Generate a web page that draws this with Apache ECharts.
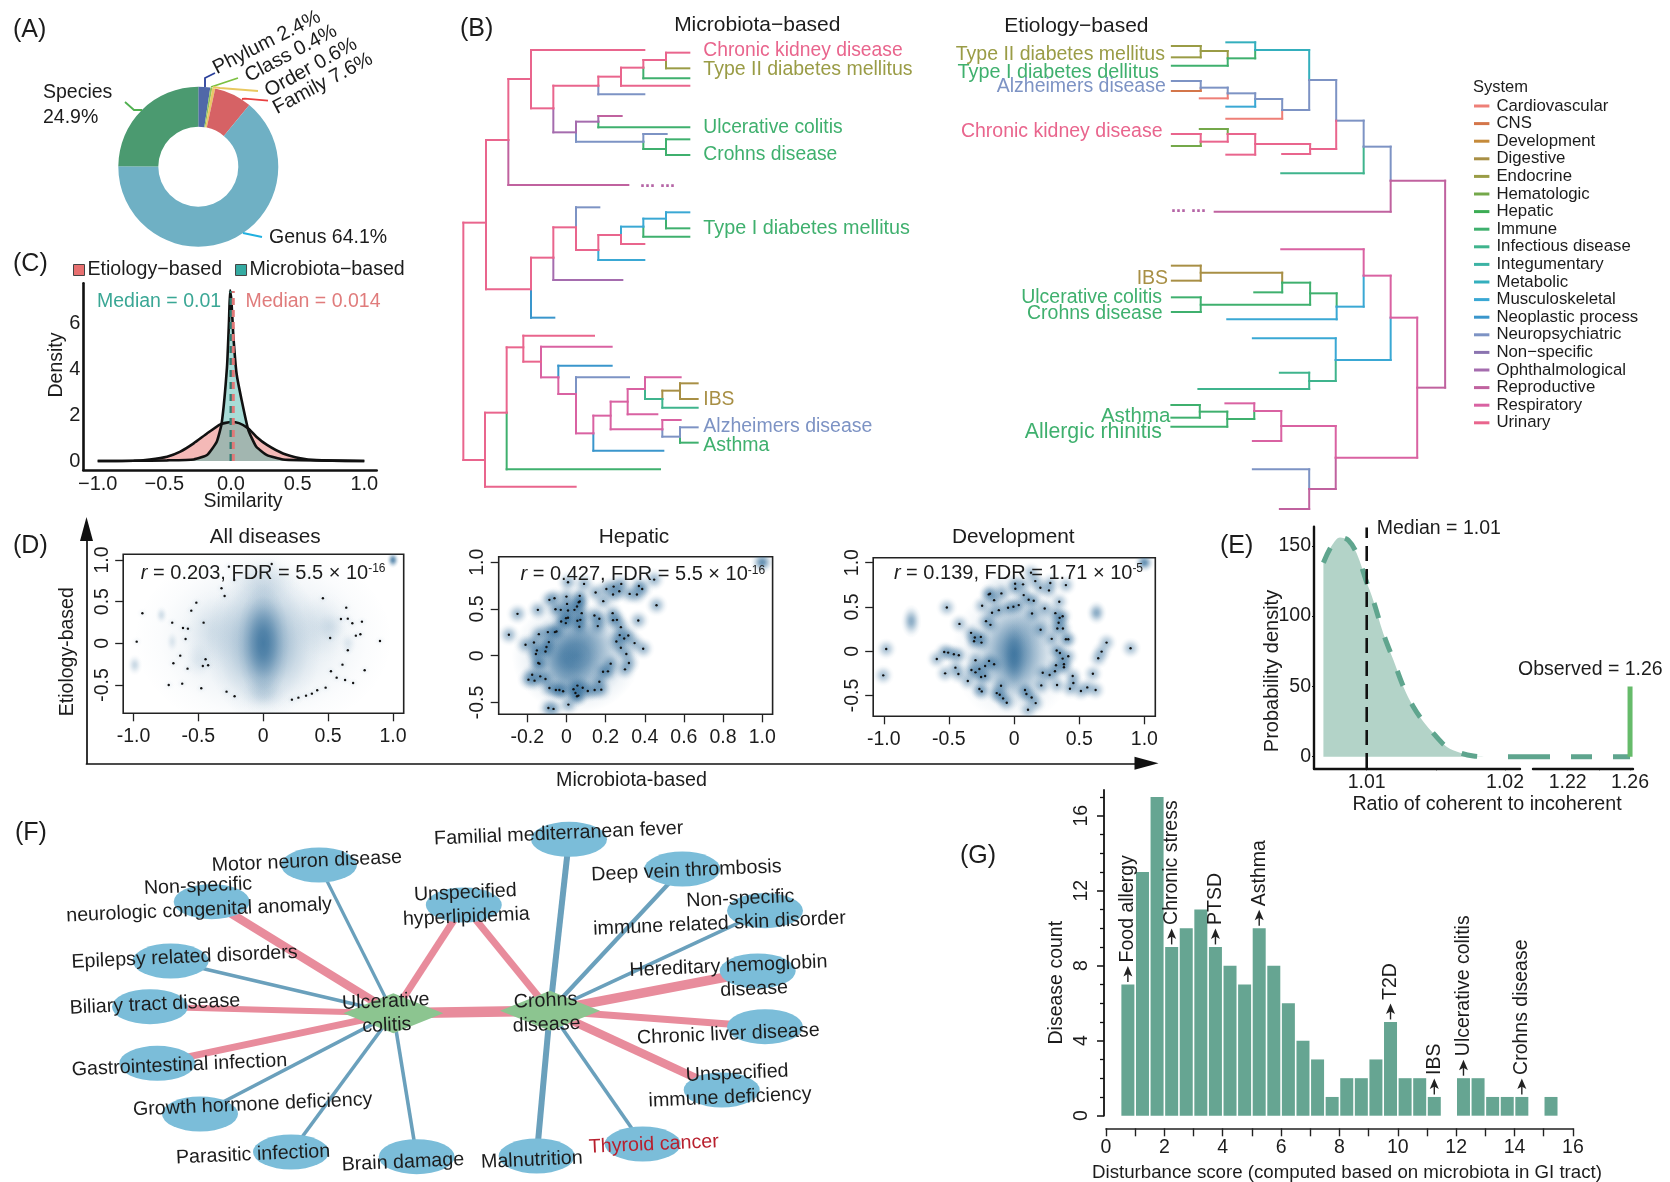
<!DOCTYPE html>
<html><head><meta charset="utf-8">
<style>html,body{margin:0;padding:0;background:#fff}#c{width:1670px;height:1182px}</style>
<script src="https://cdn.jsdelivr.net/npm/echarts@6/dist/echarts.min.js"></script>
</head><body><div id="c"></div>
<script>
/* ---------- A: taxonomic level shares ---------- */
const pieNames=['Phylum','Class','Order','Family','Genus','Species'];
const pieValues=[2.4,0.4,0.6,7.6,64.1,24.9];
/* ---------- systems (legend of B) ---------- */
const systems=['Cardiovascular','CNS','Development','Digestive','Endocrine','Hematologic','Hepatic','Immune','Infectious disease','Integumentary','Metabolic','Musculoskeletal','Neoplastic process','Neuropsychiatric','Non\u2212specific','Ophthalmological','Reproductive','Respiratory','Urinary'];
const [CV,CN,DE,DI,EN,HM,HP,IM,IF,IT,ME,MU,NP,NE,NS,OP,RP,RS,UR]=systems.map((s,i)=>i);
const systemColors=['#ee7f77','#d4764a','#c58a3a','#a88f45','#9a9c46','#74a84a','#3cac54','#3fb06e','#3fb48d','#3cb3a4','#34afbd','#3aa8d4','#3a96cc','#7d93c4','#8b74b0','#a56cae','#c0629f','#d962a2','#e9658d'];
/* ---------- B: dendrogram branches (system, x1,y1,x2,y2 in tree units) ---------- */
const treeMicrobiota=[
[UR,40,668,40,1380],[UR,40,668,108,668],[UR,40,1380,105,1380],
[UR,108,420,108,868],[UR,108,420,175,420],[UR,108,868,243,868],
[UR,175,237,175,420],[RP,175,420,175,555],[UR,175,237,243,237],[RP,175,555,535,555],
[UR,243,150,243,325],[UR,243,150,583,150],[UR,243,325,310,325],
[UR,310,257,310,325],[OP,310,325,310,397],[UR,310,257,445,257],[OP,310,397,378,397],
[UR,445,230,445,257],[NE,445,257,445,283],[UR,445,230,513,230],[NE,445,283,583,283],
[UR,513,203,513,257],[UR,513,203,580,203],[UR,513,257,718,257],
[UR,580,180,580,203],[IM,580,203,580,235],[UR,580,180,648,180],[IM,580,235,718,235],
[UR,648,158,648,180],[EN,648,180,648,205],[UR,648,158,718,158],[EN,648,205,718,205],
[OP,378,365,378,397],[NE,378,397,378,425],[OP,378,365,445,365],[NE,378,425,580,425],
[OP,445,348,445,365],[IM,445,365,445,382],[RP,445,348,515,348],[IM,445,382,718,382],
[NE,580,402,580,425],[IM,580,425,580,447],[NE,580,402,650,402],[IM,580,447,648,447],
[IM,648,418,648,465],[IM,648,418,718,418],[IM,648,465,718,465],
[UR,243,773,243,868],[NP,243,868,243,953],[UR,243,773,310,773],[NP,243,953,313,953],
[UR,310,682,310,773],[OP,310,773,310,840],[UR,310,682,378,682],[OP,310,840,517,840],
[NE,378,622,378,682],[UR,378,682,378,750],[NE,378,622,448,622],[UR,378,750,445,750],
[UR,445,705,445,750],[MU,445,750,445,780],[UR,445,705,513,705],[MU,445,780,583,780],
[MU,513,680,513,705],[UR,513,705,513,732],[MU,513,680,580,680],[UR,513,732,583,732],
[MU,580,656,580,680],[IM,580,680,580,710],[MU,580,656,648,656],[IM,580,710,718,710],
[MU,648,637,648,656],[IM,648,656,648,685],[MU,648,637,718,637],[IM,648,685,718,685],
[UR,105,1238,105,1460],[UR,105,1238,170,1238],[UR,105,1460,377,1460],
[UR,170,1042,170,1238],[IM,170,1238,170,1408],[UR,170,1042,220,1042],[IM,170,1408,630,1408],
[UR,220,1007,220,1085],[UR,220,1007,432,1007],[UR,220,1085,273,1085],
[RS,273,1040,273,1132],[RS,273,1040,485,1040],[RS,273,1132,325,1132],
[NP,325,1097,325,1132],[RS,325,1132,325,1182],[NP,325,1097,485,1097],[RS,325,1182,378,1182],
[NE,378,1132,378,1182],[RS,378,1182,378,1300],[NE,378,1132,537,1132],[RS,378,1300,430,1300],
[RS,430,1247,430,1300],[NP,430,1300,430,1352],[RS,430,1247,482,1247],[NP,430,1352,640,1352],
[RS,482,1205,482,1288],[RS,482,1205,533,1205],[RS,482,1288,637,1288],
[RS,533,1167,533,1243],[RS,533,1167,585,1167],[RS,533,1243,622,1243],
[RS,585,1132,585,1167],[IF,585,1167,585,1197],[RS,585,1132,692,1132],[IF,585,1197,637,1197],
[DI,637,1172,637,1197],[IF,637,1197,637,1223],[DI,637,1172,690,1172],[IF,637,1223,743,1223],
[DI,690,1150,690,1197],[DI,690,1150,743,1150],[DI,690,1197,743,1197],
[RS,637,1260,637,1288],[NE,637,1288,637,1310],[RS,637,1260,692,1260],[NE,637,1310,690,1310],
[NE,690,1282,690,1310],[IM,690,1310,690,1328],[NE,690,1282,743,1282],[IM,690,1328,743,1328]
];
const treeEtiology=[
[EN,498,138,560,138],[EN,498,172,560,172],[EN,560,138,560,172],[EN,560,153,618,153],
[EN,618,153,618,175],[IM,618,175,618,197],[IM,498,197,618,197],[IM,618,175,677,175],
[ME,677,127,677,150],[IM,677,150,677,175],[ME,615,127,677,127],[ME,677,150,793,150],
[ME,793,150,793,240],[NE,793,240,793,330],[NE,793,240,851,240],[NE,735,330,793,330],
[NE,498,243,560,243],[CN,498,273,560,273],[NE,560,243,560,265],[CN,560,265,560,273],[NE,560,263,618,263],
[CV,558,295,618,295],[NE,618,263,618,280],[CV,618,280,618,295],[NE,618,280,677,280],
[MU,615,320,677,320],[NE,677,280,677,297],[MU,677,297,677,320],[NE,677,297,735,297],
[NE,735,297,735,330],[CV,735,330,735,356],[CV,615,356,735,356],
[NE,851,240,851,362],[UR,851,362,851,447],[NE,851,362,910,362],[UR,795,447,851,447],
[UR,795,432,795,462],[UR,677,432,795,432],[UR,735,462,795,462],
[UR,677,402,677,464],[UR,618,402,677,402],[UR,615,464,677,464],
[HM,618,387,618,402],[UR,618,402,618,425],[HM,558,387,618,387],[UR,560,425,618,425],
[UR,560,402,560,425],[HM,560,425,560,438],[UR,498,402,560,402],[HM,498,438,560,438],
[NE,910,362,910,440],[IF,910,440,910,520],[NE,910,440,968,440],[IF,733,520,910,520],
[NE,968,440,968,542],[RP,968,542,968,635],[RP,968,542,1085,542],[RP,590,635,968,635],
[RP,1085,542,1085,1163],[RP,1025,1163,1085,1163],
[RS,1025,953,1025,1373],[RS,968,953,1025,953],[RS,850,1373,1025,1373],
[RS,968,827,968,953],[MU,968,953,968,1080],[RS,910,827,968,827],[MU,850,1080,968,1080],
[RS,910,748,910,827],[MU,910,827,910,920],[RS,733,748,910,748],[MU,852,920,910,920],
[IM,852,880,852,920],[MU,852,920,852,958],[IM,795,880,852,880],[MU,617,958,852,958],
[IM,795,848,795,914],[IM,735,848,795,848],[IM,560,914,795,914],
[DI,735,818,735,848],[IM,735,848,735,877],[DI,560,818,735,818],[IM,675,877,735,877],
[DI,560,797,560,842],[DI,498,797,560,797],[DI,498,842,560,842],
[IM,560,892,560,936],[IM,498,892,560,892],[IM,498,936,560,936],
[MU,850,1015,850,1080],[IF,850,1080,850,1143],[MU,672,1015,850,1015],[IF,793,1143,850,1143],
[IF,793,1118,793,1167],[IF,730,1118,793,1118],[IF,555,1167,793,1167],
[RS,850,1278,850,1373],[RP,850,1373,850,1467],[RS,733,1278,850,1278],[RP,793,1467,850,1467],
[RS,733,1233,733,1323],[RS,675,1233,733,1233],[RS,672,1323,733,1323],
[RS,675,1210,675,1233],[IM,675,1233,675,1257],[RS,613,1210,675,1210],[IM,617,1257,675,1257],
[IM,617,1235,617,1280],[IM,558,1235,617,1235],[IM,497,1280,617,1280],
[IM,558,1215,558,1253],[IM,497,1215,558,1215],[IM,497,1253,558,1253],
[NE,793,1408,793,1467],[RP,793,1467,793,1527],[NE,672,1408,793,1408],[RP,730,1527,793,1527]
];
/* ---------- C: similarity densities ---------- */
const densityEtiology=[[-1,0],[-.73,.01],[-.61,.07],[-.48,.19],[-.38,.41],[-.28,.77],[-.18,1.2],[-.08,1.6],[0,1.7],[.06,1.65],[.13,1.42],[.19,1.06],[.27,.7],[.39,.33],[.52,.12],[.64,.04],[1,0]];
const densityMicrobiota=[[-1,0],[-.73,.01],[-.48,.03],[-.28,.07],[-.18,.26],[-.107,.84],[-.07,1.64],[-.03,4.1],[-.015,6.1],[-.007,7.43],[.004,6.9],[.017,5.5],[.042,3.8],[.08,2.65],[.13,1.35],[.19,.62],[.27,.26],[.39,.07],[.52,.04],[1,0]];
const medianMicrobiotaX=0.0, medianEtiologyX=0.017, medianTop=7.4;
/* ---------- D: scatter points ---------- */
const dotsAll=[[-.516,.488],[-.555,.392],[-.322,.66],[-.298,.568],[-.932,.36],[-.702,.248],[-.619,.184],[-.581,.176],[-.46,.248],[-.599,.052],[-.976,.02],[-.64,-.148],[-.445,-.192],[-.693,-.24],[-.466,-.272],[-.425,-.264],[-.584,-.304],[-.729,-.5],[-.625,-.484],[-.478,-.54],[-.283,-.58],[-.221,-.636],[.221,-.676],[.271,-.652],[.33,-.628],[.375,-.604],[.416,-.564],[.481,-.532],[.522,-.336],[.566,-.412],[.631,-.44],[.693,-.476],[.782,-.324],[.611,-.256],[.652,-.084],[.516,.064],[.714,.092],[.749,.108],[.9,.028],[.761,.26],[.687,.24],[.652,.296],[.599,.292],[.64,.428],[.46,.54],[-.224,.76],[-.265,.92],[.065,.952]];
const dotsHepatic=[[-.294,.224],[-.25,.448],[-.146,.491],[-.209,.117],[-.166,.142],[-.141,.231],[-.095,.253],[-.059,.253],[-.051,.26],[-.09,.146],[-.102,.093],[-.107,.046],[-.151,.057],[-.156,.018],[-.144,-.078],[-.138,-.085],[-.175,-.203],[-.194,-.256],[-.163,-.267],[-.134,-.221],[-.107,-.249],[-.087,-.345],[-.054,-.367],[-.036,-.367],[-.017,-.381],[.036,-.359],[.056,-.32],[.083,-.342],[.109,-.377],[.144,-.367],[.178,-.363],[.168,-.278],[.187,-.171],[.212,-.167],[.226,-.085],[.046,-.399],[.054,-.434],[.061,-.427],[.01,-.523],[-.092,-.559],[-.066,-.569],[-.087,.598],[-.061,.616],[0,.633],[.068,.641],[.068,.58],[.063,.573],[.003,.555],[-.056,.498],[-.029,.491],[.008,.484],[.041,.491],[.054,.527],[.078,.456],[.143,.431],[.168,.395],[.236,.456],[.238,.381],[.258,.384],[.278,.306],[.16,.317],[.066,.31],[.056,.374],[.071,.384],[-.002,.402],[.008,.406],[-.027,.367],[-.003,.349],[.149,.676],[.188,.584],[.204,.715],[.241,.74],[.28,.769],[.238,.655],[.27,.69],[.323,.662],[.36,.655],[.37,.747],[.387,.715],[.448,.815],[.46,.541],[.367,.377],[.272,.221],[.295,.185],[.316,.217],[.255,.153],[.348,.135],[.392,.075],[.278,.085],[.306,.018],[.319,-.078],[.299,-.146],[.09,.769],[.008,.786]];
const dotsDevelopment=[[-.981,.026],[-1.004,-.272],[-.516,.494],[-.419,.309],[-.593,-.087],[-.536,-.008],[-.506,-.015],[-.462,-.034],[-.424,-.045],[-.529,-.249],[-.45,-.185],[-.427,-.257],[-.355,-.336],[-.33,.208],[-.301,.155],[-.307,.113],[-.255,.162],[-.25,.098],[-.296,-.102],[-.192,-.109],[-.222,-.166],[-.153,-.147],[-.266,-.2],[-.327,-.211],[-.296,-.238],[-.253,-.291],[-.222,-.279],[-.266,-.426],[-.248,-.453],[-.133,-.472],[-.11,-.491],[-.084,-.532],[-.056,-.581],[-.1,-.389],[.084,-.438],[.095,-.483],[.135,-.521],[.166,-.585],[.107,-.66],[.209,-.385],[.22,-.242],[.273,-.268],[.314,-.226],[.33,-.381],[.383,-.147],[.383,-.181],[.322,-.158],[.373,-.083],[.416,-.057],[.352,-.019],[.327,.008],[.289,.14],[.398,.136],[.416,.136],[.204,.242],[.332,.257],[.375,.257],[.342,.321],[.35,.377],[.373,.396],[.317,.43],[.235,.483],[.138,.426],[.112,.581],[.151,.57],[.074,.634],[.036,.521],[-.005,.502],[-.046,.491],[-.117,.464],[-.169,.434],[-.245,.513],[-.194,.642],[-.184,.649],[-.153,.577],[-.097,.653],[-.215,.34],[-.181,.298],[.008,.762],[.069,.755],[.01,.706],[.13,.887],[.163,.792],[.202,.717],[.278,.77],[.268,.687],[.398,.747],[.347,.558],[.45,-.279],[.455,-.358],[.429,-.423],[.513,-.449],[.562,-.408],[.626,-.438],[.605,-.253],[.646,-.079],[.672,-.004],[.71,.098],[.894,.034]];
/* density patches estimated by eye: x, y, x-spread, y-spread, strength */
const patchesAll=[[0,.05,1.0,1.15,.2],[0,0,.45,.95,.42],[.45,.2,.25,.45,.1],[-.4,.15,.25,.5,.1],[0,.75,.3,.35,.15],[0,-.6,.2,.25,.15],[0,0,.2,.72,.72],[1,1,.05,.1,.75],[-.785,.34,.05,.11,.2],[-.991,-.26,.06,.13,.25],[-.702,.02,.05,.13,.14],[.655,0,.07,.14,.12],[.52,.2,.12,.2,.1],[-.5,-.2,.12,.25,.1]];
const patchesHepatic=[[.05,.0,.33,.62,.72],[.0,-.05,.17,.4,.5],[.08,.2,.18,.28,.25],[1,1,.06,.12,.72],[.02,-.3,.18,.2,.2]];
const patchesDevelopment=[[0,-.02,.48,.8,.5],[0,-.02,.25,.62,.55],[0,-.06,.1,.38,.55],[1,1,.08,.11,.72],[-.789,.34,.08,.19,.55],[.633,.434,.08,.14,.55],[.18,.35,.22,.32,.2],[-.1,.7,.16,.22,.16]];
const statsAll='{i|r} = 0.203, FDR = 5.5 \u00d7 10{s|-16}';
const statsHepatic='{i|r} = 0.427, FDR = 5.5 \u00d7 10{s|-16}';
const statsDevelopment='{i|r} = 0.139, FDR = 1.71 \u00d7 10{s|-5}';
/* ---------- E: permutation density ---------- */
const ratioDensity=[[1.00687,138],[1.00747,150],[1.00807,156],[1.00867,154],[1.00928,144.5],[1.01,124],[1.01048,111],[1.0112,87.7],[1.01193,68.7],[1.01265,49.8],[1.01337,35.5],[1.0141,24.9],[1.01482,16.6],[1.01578,7],[1.01675,2.8],[1.01771,.5],[1.01868,0]];
const ratioTail=[[1.1817,0],[1.26,0]];
const ratioMedian=1.01, ratioObserved=1.26, observedHeight=50;
/* ---------- F: disease network ---------- */
const nodeLabels=['Ulcerative\ncolitis','Crohns\ndisease','Motor neuron disease','Non-specific\nneurologic congenital anomaly','Epilepsy related disorders','Biliary tract disease','Gastrointestinal infection','Growth hormone deficiency','Parasitic infection','Brain damage','Unspecified\nhyperlipidemia','Familial mediterranean fever','Deep vein thrombosis','\u00a0\u00a0\u00a0\u00a0\u00a0\u00a0\u00a0\u00a0Non-specific\nimmune related skin disorder','Hereditary hemoglobin\n\u00a0\u00a0\u00a0\u00a0\u00a0\u00a0\u00a0\u00a0\u00a0disease','Chronic liver disease','\u00a0\u00a0\u00a0Unspecified\nimmune deficiency','Thyroid cancer','Malnutrition'];
const nodeX=[393.3,550,319,211.7,170.7,150,157.3,200,291,416.7,463.8,569,682.3,765,757.7,765,721.7,642.7,536.7];
const nodeY=[1013.3,1010.7,865,901.7,961,1006.7,1063.3,1114,1152,1156.7,905,839.3,869,910.7,971,1026.7,1090,1144,1156];
/* edges: source, target, weight, 1 = pink / 0 = blue */
const edges=[[0,1,10.5,1],[0,2,3.2,0],[0,3,8.5,1],[0,4,3.6,0],[0,5,6,1],[0,6,7,1],[0,7,3.6,0],[0,8,3.6,0],[0,9,3.6,0],[0,10,7,1],
[1,10,7,1],[1,11,6,0],[1,12,4.2,0],[1,13,3.6,0],[1,14,9.5,1],[1,15,7,1],[1,16,8.5,1],[1,17,3.6,0],[1,18,6,0]];
/* ---------- G: histogram ---------- */
const scoreBins=[.75,1.25,1.75,2.25,2.75,3.25,3.75,4.25,4.75,5.25,5.75,6.25,6.75,7.25,7.75,8.25,8.75,9.25,9.75,10.25,10.75,11.25,12.25,12.75,13.25,13.75,14.25,15.25];
const scoreCounts=[7,13,17,9,10,11,9,8,7,10,8,6,4,3,1,2,2,3,5,2,2,1,2,2,1,1,1,1];
const annotBins=[.75,2.25,3.75,5.25,9.75,11.25,12.25,14.25];
const annotCounts=[7,9,9,10,5,1,2,1];
const annotNames=['Food allergy','Chronic stress','PTSD','Asthma','T2D','IBS','Ulcerative colitis','Crohns disease'];

/* ================= drawing ================= */
const FF='"Liberation Sans",Arial,sans-serif', INK='#1c1c1c';
const chart=echarts.init(document.getElementById('c'),null,{renderer:'canvas'});
const grids=[],xAxes=[],yAxes=[],series=[],gfx=[];
function addGrid(l,t,w,h,extra){grids.push(Object.assign({left:l,top:t,width:w,height:h,outerBoundsMode:'none',containLabel:false},extra||{}));return grids.length-1;}
const hidden=(g,min,max,inv)=>({type:'value',gridIndex:g,min,max,inverse:!!inv,show:false,splitLine:{show:false}});
function T(text,x,y,o){o=o||{};const r=(o.rot||0)*Math.PI/180;
  gfx.push({type:'text',z:100,silent:true,x:x-1.5*Math.sin(r)+(o.rot===90?3:0),y:y+1.5*Math.cos(r),rotation:r,
  style:{text,x:0,y:0,fontFamily:FF,fontSize:o.size||19.5,fontWeight:o.weight||'normal',fill:o.color||INK,align:o.align||'center',verticalAlign:'middle',rich:o.rich}});}
function P(points,color,w){gfx.push({type:'polyline',z:100,silent:true,shape:{points},style:{stroke:color,lineWidth:w||1.8,fill:'none'}});}

/* A */
const pieColors=['#5068a8','#8fc25a','#e9c766','#d66265','#6fb0c4','#4b9a70'];
series.push({type:'pie',center:[198.3,166.7],radius:[40,80],startAngle:90,clockwise:true,silent:true,label:{show:false},labelLine:{show:false},
  data:pieNames.map((n,i)=>({name:n,value:pieValues[i],itemStyle:{color:pieColors[i]}}))});
T('(A)',13,29,{size:25,align:'left'});
T('Phylum 2.4%',215,68,{rot:27,align:'left',size:20});T('Class 0.4%',247,76,{rot:28,align:'left',size:20});
T('Order 0.6%',267,91,{rot:29,align:'left',size:20});T('Family 7.6%',275,108,{rot:28,align:'left',size:20});
T('Species',43,91,{align:'left'});T('24.9%',43,116,{align:'left'});T('Genus 64.1%',269,236,{align:'left'});
P([[205,87],[205,78],[215,73]],'#2a3f9a');P([[211,87],[238,78]],'#7cc040');P([[213,87],[220,88],[258,91]],'#e8c860');
P([[242,99],[245,98.7],[268,100.7]],'#e84040');P([[142,110],[134,110],[125,102]],'#50b050');P([[243,233],[262,237]],'#20b0e0');

/* B */
function treeSeries(rows,g,label){
  systems.forEach((name,si)=>{
    const segs=rows.filter(r=>r[0]===si).map(r=>r.slice(1));
    const col=systemColors[si];
    series.push({type:'custom',name,xAxisIndex:g,yAxisIndex:g,coordinateSystem:'cartesian2d',silent:true,itemStyle:{color:col},
      encode:{x:[0,2],y:[1,3]},data:segs,
      renderItem:(p,api)=>{const a=api.coord([api.value(0),api.value(1)]),b=api.coord([api.value(2),api.value(3)]);
        return {type:'line',shape:{x1:a[0],y1:a[1],x2:b[0],y2:b[1]},style:{stroke:col,lineWidth:2,lineCap:'square'}};}});
  });
}
let g=addGrid(450,0,500,510);xAxes.push(hidden(g,0,1500));yAxes.push(hidden(g,0,1530,true));treeSeries(treeMicrobiota,g);
g=addGrid(940,0,730,510);xAxes.push(hidden(g,0,1568));yAxes.push(hidden(g,0,1530,true));treeSeries(treeEtiology,g);
T('(B)',460,28,{size:25,align:'left'});
T('Microbiota\u2212based',757.3,23.5,{size:21});T('Etiology\u2212based',1076.4,25,{size:21});
const c=i=>systemColors[i];
[['Chronic kidney disease',49.3,UR,19.3],['Type II diabetes mellitus',68.3,EN,19.5],['Ulcerative colitis',126,IM,19.3],['Crohns disease',153.3,IM,19.3],['Type I diabetes mellitus',227.3,IM,19.8],['IBS',397.7,DI,19.3],['Alzheimers disease',425,NE,19.5],['Asthma',444.3,IM,19.5]]
 .forEach(r=>T(r[0],703.3,r[1],{color:c(r[2]),align:'left',size:r[3]}));
[['Type II diabetes mellitus',1164.9,53.3,EN,19.5],['Type I diabetes dellitus',1158.8,70.7,IM,19.8],['Alzheimers disease',1165.8,85,NE,19.5],['Chronic kidney disease',1162.5,130,UR,19.5],['IBS',1168.1,276.7,DI,19.5],['Ulcerative colitis',1162,295.7,IM,19.5],['Crohns disease',1162.5,312.3,IM,19.5],['Asthma',1170.4,415,IM,20.5],['Allergic rhinitis',1162,430.7,IM,21.3]]
 .forEach(r=>T(r[0],r[1],r[2],{color:c(r[3]),align:'right',size:r[4]}));
T('... ...',640,181,{size:18,weight:'bold',color:'#b565a6',align:'left'});
T('... ...',1171,206,{size:18,weight:'bold',color:'#b565a6',align:'left'});
T('System',1473,86,{size:16.5,align:'left'});

/* C */
g=addGrid(83.3,283.3,293.4,186.7);
const axLine={show:true,onZero:false,lineStyle:{color:'#111',width:2.6}};
xAxes.push({type:'value',gridIndex:g,min:-1.108,max:1.093,axisLine:axLine,axisTick:{show:false},splitLine:{show:false},
  axisLabel:{customValues:[-1,-.5,0,.5,1],margin:4,fontSize:20,fontFamily:FF,color:INK,formatter:v=>(v<0?'\u2212':'')+Math.abs(v).toFixed(1)}});
yAxes.push({type:'value',gridIndex:g,min:-.39,max:7.74,axisLine:axLine,axisTick:{show:false},splitLine:{show:false},
  axisLabel:{customValues:[0,2,4,6],margin:3,fontSize:20,fontFamily:FF,color:INK}});
const areaLine=(name,data,fill)=>({type:'line',name,xAxisIndex:g,yAxisIndex:g,data,symbol:'none',smooth:.15,silent:true,clip:false,lineStyle:{color:'#111',width:2.6},areaStyle:{color:fill,opacity:1,origin:0}});
series.push(areaLine('Etiology\u2212based',densityEtiology,'rgba(232,108,104,.48)'));
series.push(areaLine('Microbiota\u2212based',densityMicrobiota,'rgba(66,178,168,.46)'));
const vline=(name,gi,x,y0,y1,color,w,dash)=>({type:'line',name,xAxisIndex:gi,yAxisIndex:gi,data:[[x,y0],[x,y1]],symbol:'none',silent:true,clip:false,z:5,lineStyle:{color,width:w,type:dash||'solid'}});
series.push(vline('medM',g,medianMicrobiotaX,0,medianTop,'#2e7d72',3,[7,5]));
series.push(vline('medE',g,medianEtiologyX,0,medianTop,'#e07878',3,[7,5]));
T('(C)',13,263,{size:25,align:'left'});
T('Median = 0.01',97,300,{color:'#3aa795',align:'left'});T('Median = 0.014',245.5,300,{color:'#e07c7c',align:'left'});
T('Similarity',243,500);T('Density',55,365,{rot:90});

/* D */
function scatterPanel(box,xr,yr,xTicks,dots,patches,haloRX,haloRY,haloA){
  const gi=addGrid(box[0],box[1],box[2],box[3],{show:true,borderColor:'#222',borderWidth:1.6,backgroundColor:'rgba(0,0,0,0)'});
  xAxes.push({type:'value',gridIndex:gi,min:xr[0],max:xr[1],splitLine:{show:false},axisLine:{show:false,onZero:false},axisTick:{show:true,length:8,customValues:xTicks,lineStyle:{color:'#222',width:1.3}},
    axisLabel:{customValues:xTicks,margin:13,fontSize:19.5,fontFamily:FF,color:INK,formatter:v=>v===0?'0':v.toFixed(1)}});
  const yT=[-.5,0,.5,1];
  yAxes.push({type:'value',gridIndex:gi,min:yr[0],max:yr[1],splitLine:{show:false},axisLine:{show:false,onZero:false},axisTick:{show:true,length:8,customValues:yT,lineStyle:{color:'#222',width:1.3}},
    axisLabel:{customValues:yT,rotate:90,margin:11,fontSize:19.5,fontFamily:FF,color:INK,formatter:v=>v===0?'0':v.toFixed(1)}});
  const blobs=patches.concat(dots.map(d=>[d[0],d[1],haloRX,haloRY,haloA]));
  const stops=a=>[0,.2,.4,.6,.8,1].map((o,i)=>({offset:o,color:'rgba(44,104,150,'+(a*[1,.88,.6,.3,.09,0][i]).toFixed(3)+')'}));
  series.push({type:'custom',xAxisIndex:gi,yAxisIndex:gi,coordinateSystem:'cartesian2d',silent:true,clip:true,z:1,data:blobs,encode:{x:0,y:1},
    renderItem:(p,api)=>{const q=api.coord([api.value(0),api.value(1)]),s=api.size([api.value(2),api.value(3)]);
      return {type:'circle',x:q[0],y:q[1],scaleX:s[0]/100,scaleY:s[1]/100,shape:{cx:0,cy:0,r:100},
        style:{fill:new echarts.graphic.RadialGradient(.5,.5,.5,stops(api.value(4)))}};}});
  series.push({type:'scatter',xAxisIndex:gi,yAxisIndex:gi,data:dots,symbolSize:2.4,silent:true,z:3,itemStyle:{color:'#111',opacity:1}});
}
scatterPanel([123.2,554.3,280.5,159],[-1.08,1.083],[-.84,1.068],[-1,-.5,0,.5,1],dotsAll,patchesAll,.05,.07,.05);
scatterPanel([498.7,556.7,273.9,157.6],[-.346,1.053],[-.627,1.06],[-.2,0,.2,.4,.6,.8,1],dotsHepatic,patchesHepatic,.06,.125,.45);
scatterPanel([873.2,557.7,282.1,158.6],[-1.081,1.084],[-.734,1.056],[-1,-.5,0,.5,1],dotsDevelopment,patchesDevelopment,.085,.125,.4);
const rich={i:{fontStyle:'italic',fontSize:20,fontFamily:FF,fill:INK,color:INK},s:{fontSize:12,fontFamily:FF,color:INK,fill:INK,padding:[0,0,9,0]}};
T(statsAll,140.8,571.7,{align:'left',size:20,rich});T(statsHepatic,520.5,573.3,{align:'left',size:20,rich});T(statsDevelopment,893.9,571.7,{align:'left',size:20,rich});
T('All diseases',265.2,535.7,{size:20.8});T('Hepatic',634,535.7,{size:20.8});T('Development',1013.3,535.7,{size:20.8});
T('(D)',13,545,{size:25,align:'left'});
T('Etiology-based',65.8,651.7,{rot:90,size:19.5});T('Microbiota-based',631.5,779.5,{size:19.7});
/* big arrows of D */
g=addGrid(86.5,529,1060,234.3);
const arrowAxis={show:true,onZero:false,symbol:['none','triangle'],symbolSize:[13,24],lineStyle:{color:'#111',width:1.7}};
xAxes.push({type:'value',gridIndex:g,min:0,max:1,axisLine:arrowAxis,axisTick:{show:false},axisLabel:{show:false},splitLine:{show:false}});
yAxes.push({type:'value',gridIndex:g,min:0,max:1,axisLine:arrowAxis,axisTick:{show:false},axisLabel:{show:false},splitLine:{show:false}});

/* E */
const eL=addGrid(1314,526.7,206,241.6);
const eAxis={show:true,onZero:false,lineStyle:{color:'#111',width:2.4}};
xAxes.push({type:'value',gridIndex:eL,min:1.00619,max:1.02108,splitLine:{show:false},axisLine:eAxis,axisTick:{show:true,length:2,customValues:[1.01,1.015,1.02],lineStyle:{color:'#111'}},
  axisLabel:{customValues:[1.01,1.02],margin:4,fontSize:19.5,fontFamily:FF,color:INK,formatter:v=>v.toFixed(2)}});
yAxes.push({type:'value',gridIndex:eL,min:-8.25,max:163.6,splitLine:{show:false},axisLine:eAxis,axisTick:{show:true,length:2,customValues:[0,50,100,150],lineStyle:{color:'#111'}},
  axisLabel:{customValues:[0,50,100,150],margin:3,fontSize:19.5,fontFamily:FF,color:INK}});
const eR=addGrid(1533,526.7,100,241.6);
xAxes.push({type:'value',gridIndex:eR,min:1.1977,max:1.2619,splitLine:{show:false},axisLine:eAxis,axisTick:{show:true,length:2,customValues:[1.22,1.24,1.26],lineStyle:{color:'#111'}},
  axisLabel:{customValues:[1.22,1.26],margin:4,fontSize:19.5,fontFamily:FF,color:INK,formatter:v=>v.toFixed(2)}});
yAxes.push(hidden(eR,-8.25,163.6));
const eT=addGrid(1508,526.7,125,241.6);
xAxes.push(hidden(eT,1.1817,1.2619));yAxes.push(hidden(eT,-8.25,163.6));
series.push({type:'line',xAxisIndex:eL,yAxisIndex:eL,data:ratioDensity,symbol:'none',smooth:.35,silent:true,clip:false,lineStyle:{color:'#5fa58e',width:5,type:[16,20]},areaStyle:{color:'#b3d3c8',opacity:1,origin:0}});
series.push({type:'line',xAxisIndex:eT,yAxisIndex:eT,data:ratioTail,symbol:'none',silent:true,clip:false,lineStyle:{color:'#5fa58e',width:5,type:[42,21,21,21,21]}});
series.push(vline('obs',eR,ratioObserved,0,observedHeight,'#66bb6a',5));
series.push(vline('med',eL,ratioMedian,-8,163,'#111',2.6,[15,8]));
T('(E)',1220,545,{size:25,align:'left'});T('Median = 1.01',1376.7,527.5,{align:'left'});T('Observed = 1.26',1518,668.5,{align:'left'});
T('Ratio of coherent to incoherent',1487,803.5,{size:19.7});T('Probability density',1270.7,671,{rot:90,size:20});

/* F */
g=addGrid(0,800,900,382);xAxes.push(hidden(g,0,900));yAxes.push(hidden(g,800,1182,true));
const labelOffsets=[[-7,0],[-4,2],[-12,-4],[-13,-4],[14,-3],[5,-2],[22,3],[53,-7],[-38,1],[-14,5],[2,0],[-10,-6],[4,2],[-46,-1],[-29,6],[-37,6],[8,-4],[11,1],[-5,4]];
series.push({type:'graph',coordinateSystem:'cartesian2d',xAxisIndex:g,yAxisIndex:g,layout:'none',roam:false,silent:true,z:4,
  data:nodeLabels.map((n,i)=>({id:String(i),name:n,value:[nodeX[i],nodeY[i]],symbol:i<2?'diamond':'circle',symbolSize:i<2?[100,40]:[76,35],
    itemStyle:{color:i<2?'#8cc590':'#7bbdd9',opacity:1},
    label:{show:true,position:'inside',formatter:n,rotate:2.5,offset:labelOffsets[i],fontSize:19.7,lineHeight:24,fontFamily:FF,color:i===17?'#b8202e':INK}})),
  links:edges.map(e=>({source:String(e[0]),target:String(e[1]),lineStyle:{width:e[2],color:e[3]?'#e88c9c':'#6aa0bc',opacity:1,curveness:0}})),
  lineStyle:{opacity:1}});
T('(F)',15,832,{size:25,align:'left'});

/* G */
g=addGrid(1106,790,466.9,325.7);
xAxes.push({type:'value',gridIndex:g,min:0,max:16,interval:1,offset:12.6,position:'bottom',splitLine:{show:false},axisLine:{show:true,onZero:false,lineStyle:{color:'#222',width:1.6}},
  axisTick:{show:true,length:8,lineStyle:{color:'#222',width:1.4}},axisLabel:{customValues:[0,2,4,6,8,10,12,14,16],margin:9,fontSize:19.5,fontFamily:FF,color:INK}});
yAxes.push({type:'value',gridIndex:g,min:0,max:17.37,offset:2,position:'left',splitLine:{show:false},axisLine:{show:true,onZero:false,lineStyle:{color:'#111',width:1.8}},
  axisTick:{show:true,length:7,customValues:[0,4,8,12,16],lineStyle:{color:'#111',width:1.5}},axisLabel:{customValues:[0,4,8,12,16],rotate:90,margin:12,fontSize:19.5,fontFamily:FF,color:INK}});
yAxes.push({type:'value',gridIndex:g,min:0,max:17.37,offset:2,position:'left',splitLine:{show:false},axisLine:{show:false,onZero:false},axisLabel:{show:false},
  axisTick:{show:true,length:4,customValues:[1,2,3,5,6,7,9,10,11,13,14,15,17],lineStyle:{color:'#111',width:1.3}}});
series.push({type:'bar',xAxisIndex:g,yAxisIndex:g,barWidth:13,silent:true,itemStyle:{color:'#66a592'},data:scoreBins.map((b,i)=>[b,scoreCounts[i]])});
series.push({type:'custom',xAxisIndex:g,yAxisIndex:g,coordinateSystem:'cartesian2d',silent:true,z:6,encode:{x:0,y:1},clip:false,
  data:annotBins.map((b,i)=>[b,annotCounts[i]]),
  renderItem:(p,api)=>{const q=api.coord([api.value(0),api.value(1)]);const x=q[0],y=q[1];
    return {type:'group',children:[
      {type:'line',shape:{x1:x,y1:y-2.5,x2:x,y2:y-12},style:{stroke:'#222',lineWidth:1.4}},
      {type:'polygon',shape:{points:[[x,y-18.5],[x-4.5,y-8],[x,y-10.5],[x+4.5,y-8]]},style:{fill:'#222'}},
      {type:'text',x,y:y-22,rotation:Math.PI/2,style:{text:annotNames[p.dataIndex],x:0,y:0,align:'left',verticalAlign:'middle',fontSize:19.5,fontFamily:FF,fill:INK}}
    ]};}});
T('(G)',960,855,{size:25,align:'left'});
T('Disease count',1054.7,982.7,{rot:90});T('Disturbance score (computed based on microbiota in GI tract)',1347,1171,{size:18.7});

chart.setOption({
  animation:false,backgroundColor:'#fff',textStyle:{fontFamily:FF},
  grid:grids,xAxis:xAxes,yAxis:yAxes,series,
  legend:[
    {orient:'vertical',left:1474,top:97.5,itemWidth:15.4,itemHeight:3,itemGap:.6,icon:'rect',selectedMode:false,padding:0,
     textStyle:{fontSize:16.8,fontFamily:FF,color:INK,lineHeight:17,height:17,padding:[0,0,0,2]},data:systems},
    {left:73,top:260,itemWidth:11,itemHeight:11,itemGap:13,icon:'rect',selectedMode:false,padding:0,
     textStyle:{fontSize:19.6,fontFamily:FF,color:INK,padding:[0,0,0,-2]},
     data:[{name:'Etiology\u2212based',itemStyle:{color:'#e87070',borderColor:'#444',borderWidth:1},lineStyle:{opacity:0}},
           {name:'Microbiota\u2212based',itemStyle:{color:'#35aba2',borderColor:'#444',borderWidth:1},lineStyle:{opacity:0}}]}
  ],
  graphic:{elements:gfx}
});
</script></body></html>
